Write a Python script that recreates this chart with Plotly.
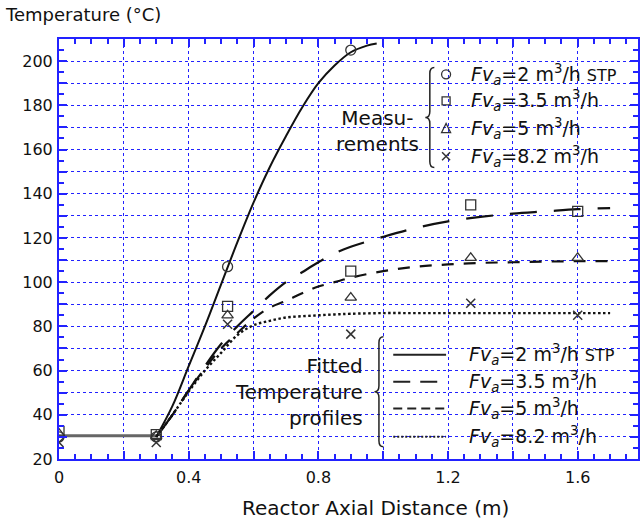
import plotly.graph_objects as go

# ---- measured temperatures (°C) at the thermocouple positions (m) ----
x_meas = [0.0, 0.30, 0.52, 0.90, 1.27, 1.60]
t_meas_2 = [30.0, 30.0, 107.0, 205.0]
t_meas_35 = [32.5, 31.0, 89.0, 105.0, 135.0, 132.0]
t_meas_5 = [31.5, 30.5, 85.0, 93.0, 111.0, 111.0]
t_meas_82 = [27.5, 27.5, 81.0, 76.5, 90.5, 85.0]

# ---- inlet section, constant temperature ----
x_inlet = [0.0, 0.30]
t_inlet = [30.5, 30.5]

# ---- fitted temperature profiles ----
x_fit_2 = [0.30, 0.35, 0.40, 0.45, 0.50, 0.55, 0.60, 0.65, 0.70, 0.75,
           0.80, 0.85, 0.90, 0.95, 0.98]
t_fit_2 = [30, 44, 62, 80, 99, 118, 136, 152, 166, 179,
           190, 198, 204, 207, 208]

x_fit = [0.30, 0.35, 0.40, 0.45, 0.50, 0.55, 0.60, 0.65, 0.70, 0.75, 0.80,
         0.85, 0.90, 1.00, 1.10, 1.20, 1.30, 1.40, 1.50, 1.60, 1.70]
t_fit_35 = [30, 40, 51, 62, 72, 80, 87, 94, 100, 104.5, 109,
            113, 116, 120.5, 124.5, 127.5, 129.5, 131, 132, 133, 133.5]
t_fit_5 = [30, 40, 51, 61, 70, 77, 83.5, 88.5, 91.5, 95, 98,
           100, 102, 105, 107, 108, 108.7, 109, 109.3, 109.5, 109.5]
t_fit_82 = [30, 40, 50.5, 60, 68, 76, 80.5, 82.5, 84, 84.6, 85,
            85.4, 85.7, 86, 86, 86, 86, 86, 86, 86, 86]

x_ticks = [0, 0.2, 0.4, 0.6, 0.8, 1.0, 1.2, 1.4, 1.6]
x_ticktext = ["0", "", "0.4", "", "0.8", "", "1.2", "", "1.6"]
y_ticks = list(range(20, 211, 10))
y_ticktext = [str(v) if v % 20 == 0 else "" for v in y_ticks]

legend_labels = [
    "<i>Fv<sub>a</sub></i>=2 m<sup>3</sup>/h <span style='font-size:16px'>STP</span>",
    "<i>Fv<sub>a</sub></i>=3.5 m<sup>3</sup>/h",
    "<i>Fv<sub>a</sub></i>=5 m<sup>3</sup>/h",
    "<i>Fv<sub>a</sub></i>=8.2 m<sup>3</sup>/h",
]

FONT = "DejaVu Sans, Verdana, sans-serif"
BLUE = "#2222ff"
INK = "#111111"
MARK = "#333333"

fig = go.Figure()

# fitted curves
fig.add_trace(go.Scatter(x=x_inlet, y=t_inlet, mode="lines",
                         line=dict(color="#666666", width=3)))
fig.add_trace(go.Scatter(x=x_fit_2, y=t_fit_2, mode="lines", line_shape="spline",
                         line=dict(color=INK, width=2)))
fig.add_trace(go.Scatter(x=x_fit, y=t_fit_35, mode="lines", line_shape="spline",
                         line=dict(color=INK, width=2.2, dash="27px,17px")))
fig.add_trace(go.Scatter(x=x_fit, y=t_fit_5, mode="lines", line_shape="spline",
                         line=dict(color=INK, width=2.2, dash="12px,10px")))
fig.add_trace(go.Scatter(x=x_fit, y=t_fit_82, mode="lines", line_shape="spline",
                         line=dict(color=INK, width=2.4, dash="2.5px,2.5px")))

# measurements
fig.add_trace(go.Scatter(x=x_meas[:len(t_meas_2)], y=t_meas_2, mode="markers",
                         marker=dict(symbol="circle-open", size=10, color=MARK,
                                     line=dict(width=1.3, color=MARK))))
fig.add_trace(go.Scatter(x=x_meas, y=t_meas_35, mode="markers",
                         marker=dict(symbol="square-open", size=10, color=MARK,
                                     line=dict(width=1.3, color=MARK))))
fig.add_trace(go.Scatter(x=x_meas, y=t_meas_5, mode="markers",
                         marker=dict(symbol="triangle-up-open", size=10, color=MARK,
                                     line=dict(width=1.3, color=MARK))))
fig.add_trace(go.Scatter(x=x_meas, y=t_meas_82, mode="markers",
                         marker=dict(symbol="x-thin-open", size=9, color=MARK,
                                     line=dict(width=1.5, color=MARK))))

axis_common = dict(
    showline=True, linecolor=BLUE, linewidth=2, mirror="ticks",
    ticks="inside", tickcolor=BLUE, tickwidth=1.5, ticklen=8,
    showgrid=True, gridcolor=BLUE, gridwidth=1.3, griddash="3px,3px",
    zeroline=False, tickfont=dict(family=FONT, size=16, color=INK),
)
fig.update_xaxes(range=[0, 1.786], tickmode="array", tickvals=x_ticks,
                 ticktext=x_ticktext, ticklabelstandoff=3,
                 minor=dict(dtick=0.05, tick0=0, ticks="inside", ticklen=5,
                            tickcolor=BLUE, tickwidth=1.5, showgrid=False),
                 **axis_common)
fig.update_yaxes(range=[20, 210], tickmode="array", tickvals=y_ticks,
                 ticktext=y_ticktext, ticklabelstandoff=1,
                 minor=dict(dtick=5, tick0=0, ticks="inside", ticklen=5,
                            tickcolor=BLUE, tickwidth=1.5, showgrid=False),
                 **axis_common)

# ---- legend-style keys ----
shapes = []
ann = []
key_y_top = [194, 182, 169.5, 157]
key_x_top = 1.194
shapes.append(dict(type="circle", xref="x", yref="y", xsizemode="pixel",
                   ysizemode="pixel", xanchor=key_x_top, yanchor=key_y_top[0],
                   x0=-4.5, x1=4.5, y0=-4.5, y1=4.5, line=dict(color=MARK, width=1.3)))
shapes.append(dict(type="rect", xref="x", yref="y", xsizemode="pixel",
                   ysizemode="pixel", xanchor=key_x_top, yanchor=key_y_top[1],
                   x0=-4, x1=4, y0=-4, y1=4, line=dict(color=MARK, width=1.3)))
shapes.append(dict(type="path", xref="x", yref="y", xsizemode="pixel",
                   ysizemode="pixel", xanchor=key_x_top, yanchor=key_y_top[2],
                   path="M -4.5,-4 L 4.5,-4 L 0,5 Z", line=dict(color=MARK, width=1.3)))
shapes.append(dict(type="path", xref="x", yref="y", xsizemode="pixel",
                   ysizemode="pixel", xanchor=key_x_top, yanchor=key_y_top[3],
                   path="M -4,-4 L 4,4 M -4,4 L 4,-4", line=dict(color=MARK, width=1.5)))
for yv, lab in zip(key_y_top, legend_labels):
    ann.append(dict(x=1.265, y=yv, xref="x", yref="y", text=lab, showarrow=False,
                    xanchor="left", yanchor="middle",
                    font=dict(family=FONT, size=19, color=INK)))

key_y_bot = [67.2, 55.0, 42.8, 30.1]
sample_dash = ["solid", "17px,10px", "9px,5px", "2px,2px"]
for yv, dsh, lab in zip(key_y_bot, sample_dash, legend_labels):
    shapes.append(dict(type="line", xref="x", yref="y", x0=1.031, x1=1.194,
                       y0=yv, y1=yv, line=dict(color="#222222", width=2, dash=dsh)))
    ann.append(dict(x=1.259, y=yv, xref="x", yref="y", text=lab, showarrow=False,
                    xanchor="left", yanchor="middle",
                    font=dict(family=FONT, size=19, color=INK)))

# curly braces grouping the keys
def brace(xa, ya, half, w=9):
    return dict(type="path", xref="x", yref="y", xsizemode="pixel",
                ysizemode="pixel", xanchor=xa, yanchor=ya,
                path=(f"M {w},{half} Q {w/2},{half} {w/2},{half-6} L {w/2},6 "
                      f"Q {w/2},0 0,0 Q {w/2},0 {w/2},-6 L {w/2},{-half+6} "
                      f"Q {w/2},{-half} {w},{-half}"),
                line=dict(color="#222222", width=1.5))

shapes.append(brace(1.130, 174.5, 50))
shapes.append(brace(0.973, 50.4, 55))

ann.append(dict(x=0.983, y=168.5, xref="x", yref="y", text="Measu-<br>rements",
                showarrow=False, xanchor="center", yanchor="middle",
                font=dict(family=FONT, size=20, color=INK)))
ann.append(dict(x=0.943, y=50.4, xref="x", yref="y",
                text="Fitted<br>Temperature<br>profiles", align="right",
                showarrow=False, xanchor="right", yanchor="middle",
                font=dict(family=FONT, size=20, color=INK)))

# axis titles
ann.append(dict(x=-0.097, y=1.058, xref="paper", yref="paper",
                text="Temperature (°C)", showarrow=False, xanchor="left",
                yanchor="middle", font=dict(family=FONT, size=18, color=INK)))
ann.append(dict(x=0.547, y=-0.116, xref="paper", yref="paper",
                text="Reactor Axial Distance (m)", showarrow=False,
                xanchor="center", yanchor="middle",
                font=dict(family=FONT, size=20, color=INK)))

fig.update_layout(
    width=642, height=524,
    margin=dict(l=59, r=2, t=39, b=65),
    plot_bgcolor="white", paper_bgcolor="white",
    showlegend=False, shapes=shapes, annotations=ann,
    font=dict(family=FONT, size=16, color=INK),
)

fig.write_html("out.html")
